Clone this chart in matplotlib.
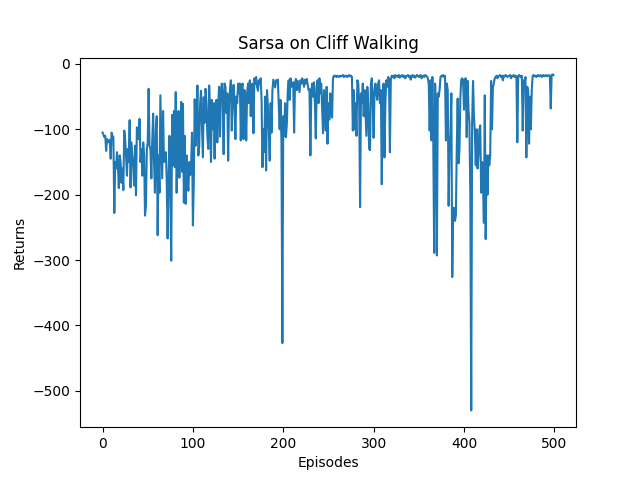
import numpy as np
import matplotlib
matplotlib.use('Agg')
import matplotlib.pyplot as plt

# returns per episode
returns_0_99 = [
    -105, -108, -112, -110, -133, -115, -118, -120, -116, -145,
    -105, -110, -112, -228, -150, -160, -135, -155, -190, -140,
    -150, -182, -160, -193, -102, -115, -140, -171, -130, -150,
    -86, -189, -120, -140, -160, -186, -125, -201, -97, -110,
    -115, -84, -150, -130, -171, -120, -140, -232, -217, -130,
    -120, -38, -125, -130, -175, -118, -76, -150, -197, -100,
    -80, -262, -140, -197, -48, -110, -175, -72, -150, -145,
    -135, -175, -267, -180, -110, -190, -301, -78, -155, -72,
    -158, -43, -197, -110, -72, -174, -120, -58, -165, -61,
    -212, -110, -214, -140, -180, -194, -150, -170, -155, -105,
]
returns_100_199 = [
    -247, -180, -54, -125, -90, -33, -140, -125, -60, -41,
    -95, -143, -51, -90, -38, -60, -110, -130, -33, -75,
    -150, -55, -100, -60, -145, -62, -55, -120, -60, -35,
    -111, -45, -30, -50, -138, -30, -35, -75, -45, -148,
    -60, -40, -25, -102, -60, -32, -55, -115, -50, -60,
    -30, -45, -30, -117, -35, -30, -115, -40, -50, -117,
    -45, -30, -60, -25, -80, -35, -30, -106, -22, -30,
    -20, -35, -41, -25, -30, -22, -55, -158, -100, -135,
    -50, -163, -40, -65, -100, -148, -60, -105, -40, -24,
    -30, -36, -25, -28, -24, -60, -100, -55, -120, -427,
]
returns_200_299 = [
    -80, -110, -60, -112, -90, -40, -25, -55, -22, -35,
    -30, -28, -105, -30, -23, -40, -26, -35, -43, -25,
    -30, -22, -28, -35, -24, -30, -23, -32, -40, -38,
    -140, -45, -30, -50, -28, -60, -114, -35, -25, -60,
    -22, -45, -30, -70, -106, -40, -60, -102, -35, -122,
    -60, -85, -45, -70, -82, -22, -18, -19, -18, -20,
    -18, -19, -20, -18, -19, -18, -17, -20, -18, -19,
    -18, -20, -18, -17, -19, -18, -20, -102, -40, -100,
    -60, -110, -25, -30, -60, -219, -45, -60, -30, -80,
    -40, -75, -110, -35, -60, -130, -132, -30, -22, -60,
]
returns_300_399 = [
    -113, -40, -30, -45, -55, -30, -25, -60, -40, -184,
    -50, -30, -143, -60, -25, -35, -20, -22, -135, -25,
    -18, -20, -18, -22, -17, -19, -18, -20, -17, -21,
    -18, -19, -17, -20, -18, -22, -19, -18, -17, -20,
    -18, -24, -19, -17, -20, -18, -21, -19, -17, -18,
    -20, -18, -17, -22, -19, -18, -20, -17, -18, -19,
    -22, -30, -102, -25, -117, -20, -117, -289, -30, -70,
    -293, -45, -50, -40, -20, -18, -19, -17, -20, -18,
    -117, -30, -40, -217, -130, -107, -45, -326, -232, -220,
    -240, -232, -130, -53, -152, -130, -50, -24, -22, -25,
]
returns_400_499 = [
    -70, -23, -22, -112, -26, -70, -90, -201, -530, -90,
    -26, -79, -105, -155, -100, -160, -140, -100, -94, -197,
    -150, -180, -243, -48, -268, -140, -200, -140, -155, -140,
    -26, -100, -36, -30, -22, -20, -18, -22, -19, -18,
    -17, -20, -18, -25, -18, -19, -17, -18, -20, -19,
    -18, -17, -22, -18, -19, -17, -20, -18, -19, -120,
    -18, -17, -19, -20, -18, -102, -25, -30, -20, -143,
    -35, -40, -122, -50, -100, -40, -18, -17, -19, -18,
    -20, -18, -17, -19, -18, -17, -20, -18, -17, -19,
    -18, -17, -19, -18, -17, -19, -68, -17, -16, -17,
]

return_list = (returns_0_99 + returns_100_199 + returns_200_299
               + returns_300_399 + returns_400_499)
episodes_list = list(range(len(return_list)))

fig, ax = plt.subplots(figsize=(6.4, 4.8), dpi=100)
ax.plot(episodes_list, return_list)
ax.set_xlabel('Episodes')
ax.set_ylabel('Returns')
ax.set_title('Sarsa on Cliff Walking')

fig.savefig('out.png')
